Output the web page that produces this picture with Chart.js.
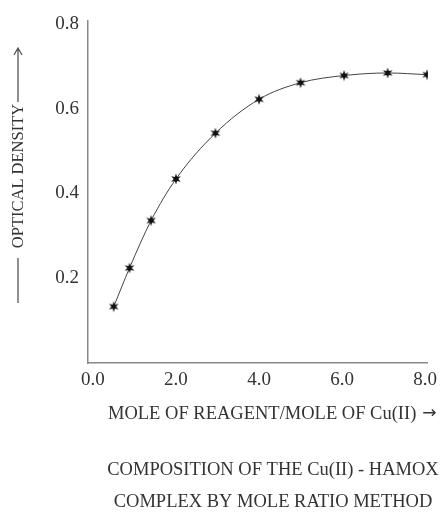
<!DOCTYPE html>
<html>
<head>
<meta charset="utf-8">
<script src="https://cdn.jsdelivr.net/npm/chart.js@4"></script>
<style>
  html, body { margin: 0; padding: 0; background: #fff; }
  #wrap { width: 443px; height: 518px; }
</style>
</head>
<body>
<div id="wrap"><canvas id="chart" width="443" height="518"></canvas></div>
<script>
// mole ratio (reagent / Cu(II)) and measured optical density
const moleRatio = [0.5, 0.88, 1.4, 2.0, 2.95, 4.0, 5.0, 6.05, 7.1, 8.05];
const opticalDensity = [0.133, 0.224, 0.336, 0.434, 0.542, 0.622, 0.661, 0.678, 0.684, 0.680];
const xTicks = [0, 2, 4, 6, 8];
const yTicks = [0.2, 0.4, 0.6, 0.8];

const yTitle = 'OPTICAL DENSITY';
const xTitle = 'MOLE OF REAGENT/MOLE OF Cu(II)';
const caption = ['COMPOSITION OF THE Cu(II) - HAMOX', 'COMPLEX BY MOLE RATIO METHOD'];

const serif = "'Liberation Serif', 'Times New Roman', serif";
const textColor = '#333';

// six pointed star marker
function starMarker() {
  const c = document.createElement('canvas');
  c.width = 12; c.height = 12;
  const g = c.getContext('2d');
  g.fillStyle = '#111';
  g.beginPath();
  for (let i = 0; i < 12; i++) {
    const r = i % 2 === 0 ? 5.5 : 2.3;
    const a = -Math.PI / 2 + i * Math.PI / 6;
    const px = 6 + r * Math.cos(a), py = 6 + r * Math.sin(a);
    if (i === 0) g.moveTo(px, py); else g.lineTo(px, py);
  }
  g.closePath();
  g.fill();
  return c;
}

// texts outside the axes: y title with its arrow lines, x title, caption
const labelsPlugin = {
  id: 'labels',
  afterDraw(chart) {
    const ctx = chart.ctx;
    ctx.save();
    ctx.fillStyle = textColor;
    ctx.strokeStyle = '#555';
    ctx.lineWidth = 1.3;
    ctx.font = '16.5px ' + serif;
    ctx.textAlign = 'center';
    ctx.textBaseline = 'middle';

    // y title, rotated
    ctx.save();
    ctx.translate(18, 176);
    ctx.rotate(-Math.PI / 2);
    ctx.fillText(yTitle, 0, 1);
    ctx.restore();
    ctx.beginPath();
    ctx.moveTo(18, 303); ctx.lineTo(18, 258);
    ctx.moveTo(18, 102); ctx.lineTo(18, 49);
    ctx.moveTo(14, 55); ctx.lineTo(18, 48); ctx.lineTo(22, 55);
    ctx.stroke();

    // x title, arrow drawn after it
    ctx.font = '18.5px ' + serif;
    ctx.textAlign = 'left';
    ctx.fillText(xTitle, 108, 414);
    const w = ctx.measureText(xTitle).width;
    ctx.font = '17px DejaVu Sans';
    ctx.fillText('\u2192', 108 + w + 6, 414);

    // caption
    ctx.font = '18.5px ' + serif;
    ctx.textAlign = 'center';
    ctx.fillText(caption[0], 273, 470);
    ctx.fillText(caption[1], 273, 502);
    ctx.restore();
  }
};

new Chart(document.getElementById('chart'), {
  type: 'line',
  data: {
    datasets: [{
      data: moleRatio.map((x, i) => ({ x: x, y: opticalDensity[i] })),
      borderColor: '#444',
      borderWidth: 1,
      cubicInterpolationMode: 'monotone',
      pointStyle: starMarker(),
      fill: false
    }]
  },
  options: {
    responsive: false,
    animation: false,
    layout: { padding: { top: 16, right: 12, left: 0, bottom: 80 } },
    plugins: {
      legend: { display: false },
      tooltip: { enabled: false }
    },
    scales: {
      x: {
        type: 'linear',
        min: -0.12,
        max: 8.07,
        afterBuildTicks: (s) => { s.ticks = xTicks.map(v => ({ value: v })); },
        afterFit: (s) => { s.height = 75; },
        grid: { display: false, drawTicks: false },
        border: { color: '#888', width: 1.5 },
        ticks: {
          padding: 6,
          color: textColor,
          font: { family: serif, size: 19 },
          callback: (v) => Number(v).toFixed(1)
        }
      },
      y: {
        min: 0,
        max: 0.808,
        afterBuildTicks: (s) => { s.ticks = yTicks.map(v => ({ value: v })); },
        afterFit: (s) => { s.width = 88; },
        grid: { display: false, drawTicks: false },
        border: { color: '#888', width: 1.5 },
        ticks: {
          padding: 9,
          color: textColor,
          font: { family: serif, size: 19 },
          callback: (v) => Number(v).toFixed(1)
        }
      }
    }
  },
  plugins: [labelsPlugin]
});
</script>
</body>
</html>
